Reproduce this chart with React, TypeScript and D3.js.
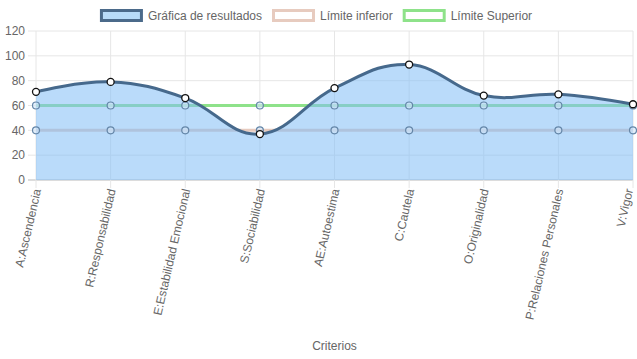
import React, { useRef, useEffect } from 'react';
import * as d3 from 'd3';

const categories = [
  'A:Ascendencia',
  'R:Responsabilidad',
  'E:Estabilidad Emocional',
  'S:Sociabilidad',
  'AE:Autoestima',
  'C:Cautela',
  'O:Originalidad',
  'P:Relaciones Personales',
  'V:Vigor',
];
const resultados = [71, 79, 66, 37, 74, 93, 68, 69, 61];
const limiteInferior = [40, 40, 40, 40, 40, 40, 40, 40, 40];
const limiteSuperior = [60, 60, 60, 60, 60, 60, 60, 60, 60];
const yTicks = [0, 20, 40, 60, 80, 100, 120];
const legendLabels = ['Gráfica de resultados', 'Límite inferior', 'Límite Superior'];

const W = 637;
const H = 359;
const FONT = '"Liberation Sans", Arial, Helvetica, sans-serif';

const App = () => {
  const ref = useRef<SVGSVGElement>(null);

  useEffect(() => {
    const svg = d3.select(ref.current);
    svg.selectAll('*').remove();

    const margin = { top: 31, right: 4, bottom: 179, left: 36 };
    const x = d3
      .scalePoint<string>()
      .domain(categories)
      .range([margin.left, W - margin.right]);
    const y = d3
      .scaleLinear()
      .domain([0, 120])
      .range([H - margin.bottom, margin.top]);

    const gridColor = '#e6e6e6';
    const textColor = '#666';

    // grid lines
    const grid = svg.append('g');
    grid
      .selectAll('line.h')
      .data(yTicks)
      .join('line')
      .attr('x1', margin.left - 8)
      .attr('x2', W - margin.right)
      .attr('y1', (d) => y(d))
      .attr('y2', (d) => y(d))
      .attr('stroke', (d) => (d === 0 ? '#d0d0d0' : gridColor))
      .attr('stroke-width', (d) => (d === 0 ? 1.5 : 1));
    grid
      .selectAll('line.v')
      .data(categories)
      .join('line')
      .attr('x1', (d) => x(d)!)
      .attr('x2', (d) => x(d)!)
      .attr('y1', y(120))
      .attr('y2', y(0) + 8)
      .attr('stroke', gridColor);

    // y tick labels
    svg
      .append('g')
      .selectAll('text')
      .data(yTicks)
      .join('text')
      .attr('x', margin.left - 11)
      .attr('y', (d) => y(d))
      .attr('dy', '0.35em')
      .attr('text-anchor', 'end')
      .attr('font-family', FONT)
      .attr('font-size', 12)
      .attr('fill', textColor)
      .text((d) => d);

    // x tick labels (kept inside the right edge)
    svg
      .append('g')
      .selectAll('text')
      .data(categories)
      .join('text')
      .attr('transform', (d) => `translate(${Math.min(x(d)! + 1, W - 8)},${y(0) + 9}) rotate(-77)`)
      .attr('dy', '0.35em')
      .attr('text-anchor', 'end')
      .attr('font-family', FONT)
      .attr('font-size', 12)
      .attr('fill', textColor)
      .text((d) => d);

    // axis title
    svg
      .append('text')
      .attr('x', (margin.left + W - margin.right) / 2)
      .attr('y', 350)
      .attr('text-anchor', 'middle')
      .attr('font-family', FONT)
      .attr('font-size', 12)
      .attr('fill', textColor)
      .text('Criterios');

    const curve = d3.curveCardinal.tension(-0.2);
    const line = d3
      .line<number>()
      .x((_, i) => x(categories[i])!)
      .y((d) => y(d))
      .curve(curve);
    const area = d3
      .area<number>()
      .x((_, i) => x(categories[i])!)
      .y0(y(0))
      .y1((d) => y(d))
      .curve(curve);

    // limit datasets (drawn first, under the fill)
    const limits = [
      { data: limiteSuperior, color: '#8ee28a' },
      { data: limiteInferior, color: '#e7cbbf' },
    ];
    limits.forEach((l) => {
      svg
        .append('path')
        .datum(l.data)
        .attr('d', line)
        .attr('fill', 'none')
        .attr('stroke', l.color)
        .attr('stroke-width', 3);
    });

    // results fill
    svg
      .append('path')
      .datum(resultados)
      .attr('d', area)
      .attr('fill', 'rgba(130, 190, 245, 0.55)');

    limits.forEach((l) => {
      svg
        .append('g')
        .selectAll('circle')
        .data(l.data)
        .join('circle')
        .attr('cx', (_, i) => x(categories[i])!)
        .attr('cy', (d) => y(d))
        .attr('r', 3.5)
        .attr('fill', 'rgba(210,230,250,0.6)')
        .attr('stroke', '#6486a8')
        .attr('stroke-width', 1.2);
    });

    // results line
    svg
      .append('path')
      .datum(resultados)
      .attr('d', line)
      .attr('fill', 'none')
      .attr('stroke', '#46698c')
      .attr('stroke-width', 3);

    svg
      .append('g')
      .selectAll('circle')
      .data(resultados)
      .join('circle')
      .attr('cx', (_, i) => x(categories[i])!)
      .attr('cy', (d) => y(d))
      .attr('r', 3.5)
      .attr('fill', '#fff')
      .attr('stroke', '#111')
      .attr('stroke-width', 1.3);

    // legend
    const legendStyles = [
      { fill: '#b8dbf8', stroke: '#4b6a8a' },
      { fill: '#fff', stroke: '#e7cbbf' },
      { fill: '#fff', stroke: '#8ee28a' },
    ];
    const legend = svg.append('g');
    const items = legendLabels.map((label, i) => {
      const g = legend.append('g');
      g.append('rect')
        .attr('x', 1.5)
        .attr('y', 10.5)
        .attr('width', 40)
        .attr('height', 10)
        .attr('fill', legendStyles[i].fill)
        .attr('stroke', legendStyles[i].stroke)
        .attr('stroke-width', 3);
      const t = g
        .append('text')
        .attr('x', 48)
        .attr('y', 15.5)
        .attr('dy', '0.35em')
        .attr('font-family', FONT)
        .attr('font-size', 12)
        .attr('fill', textColor)
        .text(label);
      const w = 48 + (t.node() as SVGTextElement).getComputedTextLength();
      return { g, w };
    });
    const gap = 10;
    const total = d3.sum(items, (d) => d.w) + gap * (items.length - 1);
    let cx = (W - total) / 2 - 1;
    items.forEach((it) => {
      it.g.attr('transform', `translate(${cx - 1.5},0)`);
      cx += it.w + gap;
    });
  }, []);

  return (
    <svg
      ref={ref}
      width={W}
      height={H}
      style={{ position: 'absolute', left: 0, top: 0, background: '#fff' }}
    />
  );
};

export default App;
